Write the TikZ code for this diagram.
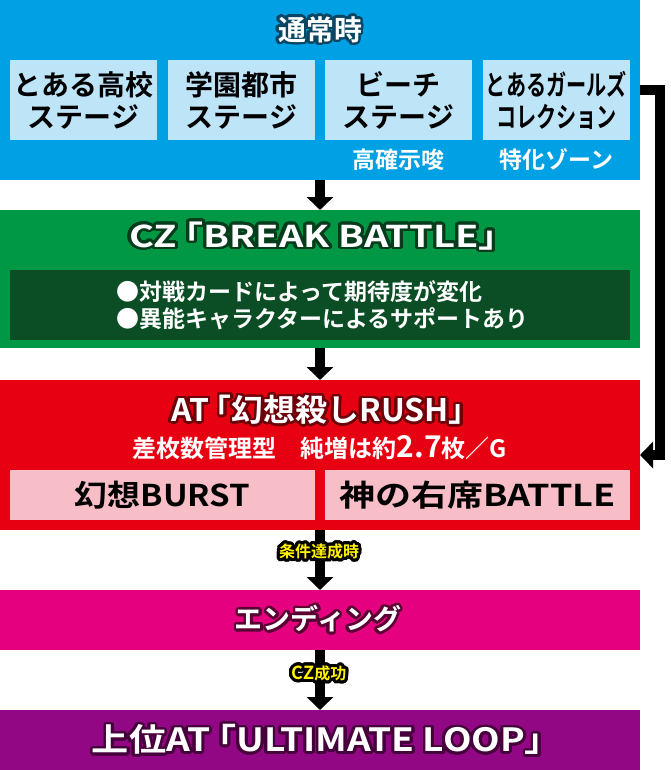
\documentclass[tikz,border=0pt]{standalone}
\usepackage{fontspec}
\setmainfont{Noto Sans CJK JP}[BoldFont={* Bold}]
\usepackage{contour}
\contourlength{2.5pt}
\contournumber{32}
\usetikzlibrary{arrows.meta}
\definecolor{bluec}{RGB}{0,160,228}
\definecolor{bluelt}{RGB}{190,228,248}
\definecolor{bluedk}{RGB}{8,70,100}
\definecolor{greenc}{RGB}{0,152,68}
\definecolor{greendk}{RGB}{11,77,36}
\definecolor{greenol}{RGB}{6,60,28}
\definecolor{redc}{RGB}{230,0,18}
\definecolor{pinkc}{RGB}{248,190,200}
\definecolor{redol}{RGB}{110,0,10}
\definecolor{magc}{RGB}{228,0,127}
\definecolor{magol}{RGB}{90,0,50}
\definecolor{purc}{RGB}{146,7,131}
\definecolor{purol}{RGB}{70,0,60}
\definecolor{yelc}{RGB}{255,241,0}
\newcommand\kb{\hspace{-0.3em}}
\tikzset{
  panel/.style={fill=#1, minimum width=640pt, inner sep=0pt, outer sep=0pt},
  subbox/.style={fill=#1, inner sep=0pt, outer sep=0pt, align=center, text=black,
    font=\bfseries\fontsize{28}{32}\selectfont},
  ttl/.style={text=white, inner sep=0pt, font=\bfseries\fontsize{28}{30}\selectfont},
  note/.style={text=white, inner sep=0pt, font=\bfseries\fontsize{23}{24}\selectfont},
  lbl/.style={text=yelc, inner sep=0pt, font=\bfseries\fontsize{16}{16}\selectfont},
  conn/.style={line width=10pt, draw=black, line join=miter, -{Triangle[width=26pt,length=13pt]}},
}
\begin{document}
\begin{tikzpicture}[x=1pt,y=-1pt]
\useasboundingbox (0,0) rectangle (670,770);
% normal
\node[panel=bluec, minimum height=180pt] (blue) at (320,90) {};
\node[ttl] (t1) at (320,31) {\contour{bluedk}{通常時}};
\node[subbox=bluelt, minimum width=147pt, minimum height=80pt] (s1) at (83.5,100) {とある高校\\ステージ};
\node[subbox=bluelt, minimum width=147pt, minimum height=80pt] (s2) at (241.5,100) {学園都市\\ステージ};
\node[subbox=bluelt, minimum width=147pt, minimum height=80pt] (s3) at (398.5,100) {ビーチ\\ステージ};
\node[subbox=bluelt, minimum width=147pt, minimum height=80pt] (s4) at (556.5,100) {\scalebox{0.72}[1]{とあるガールズ}\\\scalebox{0.72}[1]{コレクション}};
\node[note] (n3) at (398.5,160) {高確示唆};
\node[note] (n4) at (556.5,160) {特化ゾーン};
% CZ
\node[panel=greenc, minimum height=138pt] (green) at (320,279) {};
\node[ttl, font=\bfseries\fontsize{30}{30}\selectfont] (t2) at (323,237) {\scalebox{1.27}[1]{\contour{greenol}{CZ\kb「BREAK BATTLE」}}};
\node[fill=greendk, minimum width=620pt, minimum height=70pt, inner sep=0pt] (gin) at (320,305) {};
\node[text=white, inner sep=0pt, align=left, anchor=west, font=\bfseries\fontsize{23}{27}\selectfont] (gtx) at (116,305) {●対戦カードによって期待度が変化\\●異能キャラクターによるサポートあり};
% AT
\node[panel=redc, minimum height=150pt] (red) at (320,455) {};
\node[ttl, font=\bfseries\fontsize{31}{31}\selectfont] (t3) at (326,411) {\scalebox{1.03}[1]{\contour{redol}{AT\kb「幻想殺しRUSH」}}};
\node[note, font=\bfseries\fontsize{24}{24}\selectfont] (t3b) at (320,448) {差枚数管理型　純増は約{\fontsize{30}{30}\selectfont 2.7}枚／G};
\node[subbox=pinkc, minimum width=305pt, minimum height=50pt, font=\bfseries\fontsize{30}{30}\selectfont] (p1) at (162.5,495) {\scalebox{1.1}[1]{幻想BURST}};
\node[subbox=pinkc, minimum width=305pt, minimum height=50pt, font=\bfseries\fontsize{30}{30}\selectfont] (p2) at (477.5,495) {\scalebox{1.2}[1]{神の右席BATTLE}};
% ending
\node[panel=magc, minimum height=60pt] (mag) at (320,620) {};
\node[ttl] (t4) at (318,620) {\contour{magol}{エンディング}};
% ultimate
\node[panel=purc, minimum height=60pt] (pur) at (320,740) {};
\node[ttl, font=\bfseries\fontsize{32}{32}\selectfont] (t5) at (327,741) {\scalebox{1.16}[1]{\contour{purol}{上位AT\kb「ULTIMATE LOOP」}}};
% connectors
\coordinate (l1) at (660,90);
\coordinate (l2) at (660,455);
\draw[conn] (blue.south) -- (green.north);
\draw[conn] (green.south) -- (red.north);
\draw[conn] (red.south) -- (mag.north);
\draw[conn] (mag.south) -- (pur.north);
\draw[conn] (blue.east) -- (l1) -- (l2) -- (red.east);
\node[lbl] (c1) at (319,553) {\contourlength{3pt}\contour{black}{条件達成時}};
\node[lbl] (c2) at (319,675) {\contourlength{3pt}\contour{black}{{\fontsize{18}{18}\selectfont CZ}成功}};
\end{tikzpicture}
\end{document}
